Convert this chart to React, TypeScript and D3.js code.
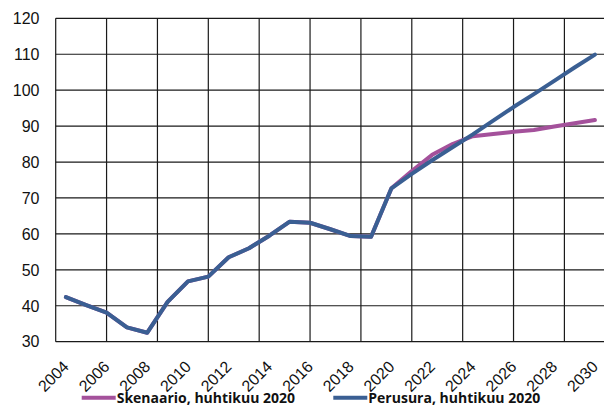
import * as d3 from "d3";
import { useEffect, useRef } from "react";

// categories (years) and series values
const years = [
	2004, 2005, 2006, 2007, 2008, 2009, 2010, 2011, 2012, 2013, 2014, 2015, 2016,
	2017, 2018, 2019, 2020, 2021, 2022, 2023, 2024, 2025, 2026, 2027, 2028, 2029,
	2030,
];
// common history 2004-2020
const history = [
	42.4, 40.2, 38.1, 34.0, 32.5, 41.1, 46.8, 48.1, 53.5, 56.0, 59.5, 63.4, 63.1,
	61.3, 59.4, 59.2, 72.7,
];
// 2021-2030
const perusuraFuture = [76.7, 80.5, 84.1, 87.7, 91.5, 95.3, 98.9, 102.6, 106.3, 109.9];
const skenaarioFuture = [77.5, 82.0, 85.0, 87.2, 87.8, 88.4, 88.9, 89.9, 90.8, 91.7];

const yTicks = [30, 40, 50, 60, 70, 80, 90, 100, 110, 120];
const xLabels = [2004, 2006, 2008, 2010, 2012, 2014, 2016, 2018, 2020, 2022, 2024, 2026, 2028, 2030];
// vertical gridlines fall between categories every 2.5 years
const xGrid = [2003.5, 2006, 2008.5, 2011, 2013.5, 2016, 2018.5, 2021, 2023.5, 2026, 2028.5];

const series = [
	{ name: "Skenaario, huhtikuu 2020", color: "#a4519b", values: history.concat(skenaarioFuture) },
	{ name: "Perusura, huhtikuu 2020", color: "#3a5f93", values: history.concat(perusuraFuture) },
];

const width = 604;
const height = 417;

const App = () => {
	const svgRef = useRef<SVGSVGElement | null>(null);

	useEffect(() => {
		const svg = d3.select(svgRef.current);
		svg.selectAll("*").remove();

		const xScale = d3.scaleLinear().domain([2003.5, 2030.5]).range([55.7, 605.1]);
		const yScale = d3.scaleLinear().domain([30, 120]).range([341.7, 18.3]);

		svg.append("rect").attr("width", width).attr("height", height).attr("fill", "white");

		//horizontal gridlines
		svg
			.append("g")
			.selectAll("line")
			.data(yTicks)
			.enter()
			.append("line")
			.attr("x1", xScale(2003.5))
			.attr("x2", xScale(2030.5))
			.attr("y1", (d) => yScale(d))
			.attr("y2", (d) => yScale(d))
			.attr("stroke", "#1a1a1a")
			.attr("stroke-width", 1.2);

		//vertical gridlines
		svg
			.append("g")
			.selectAll("line")
			.data(xGrid)
			.enter()
			.append("line")
			.attr("x1", (d) => xScale(d))
			.attr("x2", (d) => xScale(d))
			.attr("y1", yScale(120))
			.attr("y2", yScale(30))
			.attr("stroke", "#1a1a1a")
			.attr("stroke-width", 1.2);

		//y labels
		svg
			.append("g")
			.selectAll("text")
			.data(yTicks)
			.enter()
			.append("text")
			.attr("x", 39.5)
			.attr("y", (d) => yScale(d))
			.attr("dy", "0.36em")
			.attr("text-anchor", "end")
			.attr("font-family", "Liberation Sans, Arial, sans-serif")
			.attr("font-size", 16)
			.attr("fill", "#111")
			.text((d) => d);

		//x labels, rotated
		svg
			.append("g")
			.selectAll("text")
			.data(xLabels)
			.enter()
			.append("text")
			.attr("transform", (d) => `translate(${xScale(d) + 4}, ${yScale(30) + 26}) rotate(-45)`)
			.attr("text-anchor", "end")
			.attr("font-family", "Liberation Sans, Arial, sans-serif")
			.attr("font-size", 16)
			.attr("fill", "#111")
			.text((d) => d);

		//lines
		const line = d3
			.line<number>()
			.x((_, i) => xScale(years[i]))
			.y((d) => yScale(d));

		svg
			.append("g")
			.selectAll("path")
			.data(series)
			.enter()
			.append("path")
			.attr("d", (d) => line(d.values))
			.attr("fill", "none")
			.attr("stroke", (d) => d.color)
			.attr("stroke-width", 4)
			.attr("stroke-linejoin", "round")
			.attr("stroke-linecap", "round");

		//legend
		const legend = svg
			.append("g")
			.selectAll("g")
			.data(series)
			.enter()
			.append("g")
			.attr("transform", (_, i) => `translate(${i === 0 ? 81.7 : 333.3}, 397.7)`);
		legend
			.append("line")
			.attr("x1", 0)
			.attr("x2", 34)
			.attr("stroke", (d) => d.color)
			.attr("stroke-width", 4);
		legend
			.append("text")
			.attr("x", 35)
			.attr("dy", "0.36em")
			.attr("font-family", "Open Sans, sans-serif")
			.attr("font-weight", "bold")
			.attr("font-size", 14)
			.attr("fill", "#111")
			.text((d) => d.name);
	}, []);

	return (
		<svg
			ref={svgRef}
			width={width}
			height={height}
			style={{ position: "absolute", left: 0, top: 0 }}
		/>
	);
};

export default App;
